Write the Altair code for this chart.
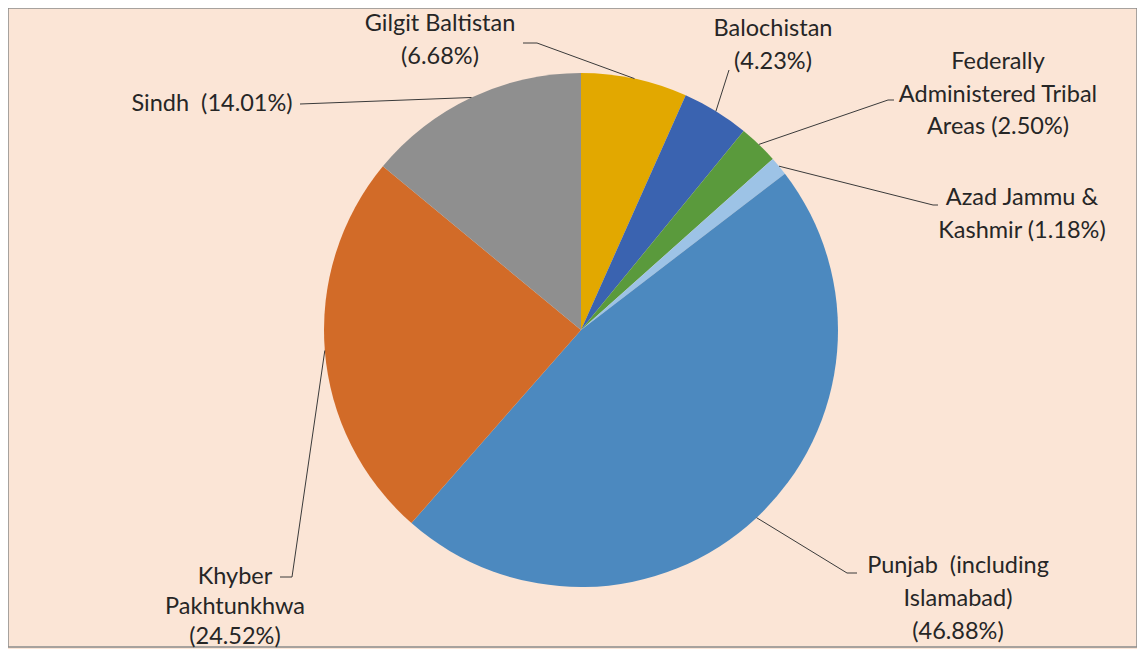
import altair as alt
import pandas as pd
import numpy as np

# ---- data ----
regions = ["Gilgit Baltistan", "Balochistan", "Federally Administered Tribal Areas",
           "Azad Jammu & Kashmir", "Punjab (including Islamabad)",
           "Khyber Pakhtunkhwa", "Sindh"]
shares = [6.68, 4.23, 2.50, 1.18, 46.88, 24.52, 14.01]
colors = ["#E2A800", "#3A63B0", "#5A9A3C", "#9DC3E6", "#4C89BF", "#D26B28", "#8F8F8F"]

NBSP = "\u00a0"
# label text lines (percentage is formatted from the data)
label_heads = [
    ["Gilgit Baltistan"],
    ["Balochistan"],
    ["Federally", "Administered Tribal", "Areas"],
    ["Azad Jammu &", "Kashmir"],
    ["Punjab" + NBSP + NBSP + "(including", "Islamabad)"],
    ["Khyber", "Pakhtunkhwa"],
    ["Sindh" + NBSP],
]
pct_on_own_line = [True, True, False, False, True, True, False]

# ---- layout (annotation placement, pixels in chart coordinates) ----
W, H = 1129, 639
CX, CY, R = 573, 322, 257
label_x = [432, 765, 990, 1014, 950, 227, 204]
label_y0 = [16, 21, 54, 190, 558, 569, 96]
line_h = [33, 33, 32.5, 33, 33, 30, 0]
leader_pts = [
    [(529, 35), (515, 35)],
    [(721, 62)],
    [(880, 92), (886, 92)],
    [(925, 197), (930, 197)],
    [(839, 565), (849, 565)],
    [(284, 569), (272, 569)],
    [(292, 96)],
]

df = pd.DataFrame({"region": regions, "share": shares, "idx": range(len(regions))})

# leader lines start at the slice's mid-angle on the rim
cum = np.cumsum([0] + shares[:-1])
mid = 2 * np.pi * (cum + np.array(shares) / 2) / 100.0
line_rows = []
for i, reg in enumerate(regions):
    sx = CX + R * np.sin(mid[i])
    sy = CY - R * np.cos(mid[i])
    pts = [(sx, sy)] + leader_pts[i]
    for j, (px, py) in enumerate(pts):
        line_rows.append({"region": reg, "seq": j, "x": float(px), "y": float(py)})
lines_df = pd.DataFrame(line_rows)

text_rows = []
for i, reg in enumerate(regions):
    pct = f"({shares[i]:.2f}%)"
    parts = list(label_heads[i])
    if pct_on_own_line[i]:
        parts = parts + [pct]
    else:
        parts[-1] = parts[-1] + NBSP + pct
    for j, t in enumerate(parts):
        text_rows.append({"region": reg, "txt": t, "x": label_x[i],
                          "y": label_y0[i] + j * line_h[i]})
text_df = pd.DataFrame(text_rows)

arcs = alt.Chart(df).mark_arc(radius=R).encode(
    theta=alt.Theta("share:Q", stack=True),
    color=alt.Color("region:N", scale=alt.Scale(domain=regions, range=colors), legend=None),
    order=alt.Order("idx:Q"),
    x=alt.value(CX),
    y=alt.value(CY),
)

leaders = alt.Chart(lines_df).mark_line(color="#3A3A3A", strokeWidth=1).encode(
    x=alt.X("x:Q", scale=None),
    y=alt.Y("y:Q", scale=None),
    detail="region:N",
    order="seq:Q",
)

labels = alt.Chart(text_df).mark_text(
    font="Lato", fontSize=23.5, color="#262626", align="center", baseline="middle"
).encode(
    x=alt.X("x:Q", scale=None),
    y=alt.Y("y:Q", scale=None),
    text="txt:N",
)

chart = alt.layer(arcs, leaders, labels).properties(
    width=W, height=H, padding=0, background="#FBE5D6"
).configure_view(stroke="#8C8C8C", strokeWidth=1.5)

chart.save("out.html", embed_options={"renderer": "svg", "actions": False})
